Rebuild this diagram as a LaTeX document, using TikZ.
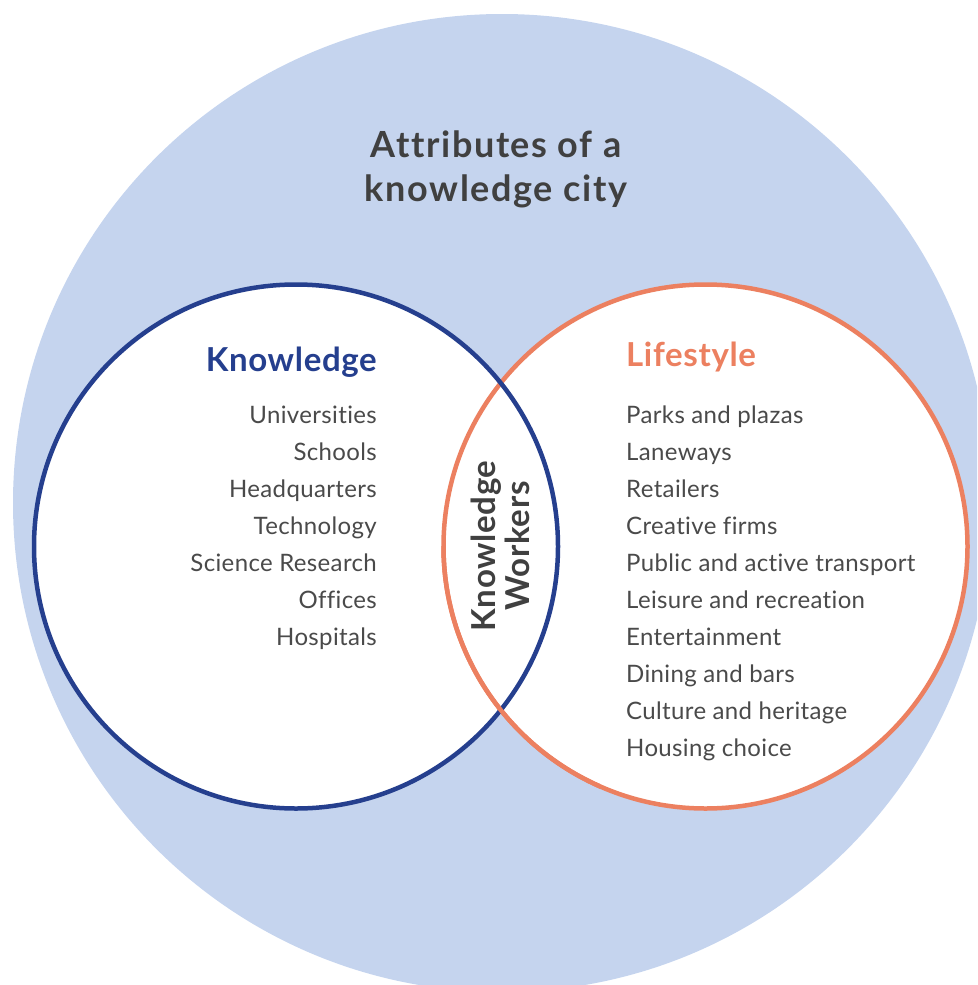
\documentclass[tikz,border=0pt]{standalone}
\usepackage{fontspec}
\setmainfont[Ligatures=CommonOff]{Lato}
\newfontfamily\titlefont[Ligatures=CommonOff,LetterSpace=4.5]{Lato}
\newfontfamily\headfont[Ligatures=CommonOff,LetterSpace=2]{Lato}
\newfontfamily\itemfont[Ligatures=CommonOff,LetterSpace=1.5]{Lato}
\definecolor{bigblue}{HTML}{C5D4EE}
\definecolor{kblue}{HTML}{253F8E}
\definecolor{lorange}{HTML}{EC8060}
\definecolor{titlegray}{HTML}{404040}
\definecolor{itemgray}{HTML}{4A4A4A}
\tikzset{
  ring/.style={circle, minimum size=524pt, inner sep=0pt, line width=4.5pt},
  titletext/.style={font=\titlefont\fontsize{36}{44}\selectfont\bfseries, text=titlegray, align=center, inner sep=0pt},
  headtext/.style={font=\headfont\fontsize{33}{34}\selectfont\bfseries, inner sep=0pt},
  itemtext/.style={font=\itemfont\fontsize{24}{30}\selectfont, text=itemgray, inner sep=0pt},
}
\begin{document}
\begin{tikzpicture}[x=1pt,y=-1pt]
\useasboundingbox (0,0) rectangle (977,985);
\clip (0,0) rectangle (977,985);
\fill[bigblue] (502,503) circle (489pt);
\node[ring, fill=white] (Kfill) at (296,546.5) {};
\node[ring, fill=white] (Lfill) at (705.5,546.5) {};
\node[ring, draw=lorange] (L) at (705.5,546.5) {};
\node[ring, draw=kblue] (K) at (296,546.5) {};
\begin{scope}
\clip (400,546.5) rectangle (600,900);
\node[ring, draw=lorange] (L2) at (705.5,546.5) {};
\end{scope}
\node[titletext, anchor=base] (title1) at (496,157) {Attributes of a};
\node[titletext, anchor=base] (title2) at (496,201) {knowledge city};
\node[headtext, text=kblue, anchor=base east] (khead) at (377,371) {Knowledge};
\node[headtext, text=lorange, anchor=base west] (lhead) at (626,366) {Lifestyle};
\foreach \t [count=\i] in {Universities,Schools,Headquarters,Technology,Science Research,Offices,Hospitals}
  \node[itemtext, anchor=base east] (k\i) at (377,{423+37*(\i-1)}) {\t};
\foreach \t [count=\i] in {Parks and plazas,Laneways,Retailers,Creative firms,Public and active transport,Leisure and recreation,Entertainment,Dining and bars,Culture and heritage,Housing choice}
  \node[itemtext, anchor=base west] (l\i) at (626,{423+37*(\i-1)}) {\t};
\node[headtext, text=titlegray, align=center, rotate=90] (kw) at (500,546) {Knowledge\\Workers};
\end{tikzpicture}
\end{document}
